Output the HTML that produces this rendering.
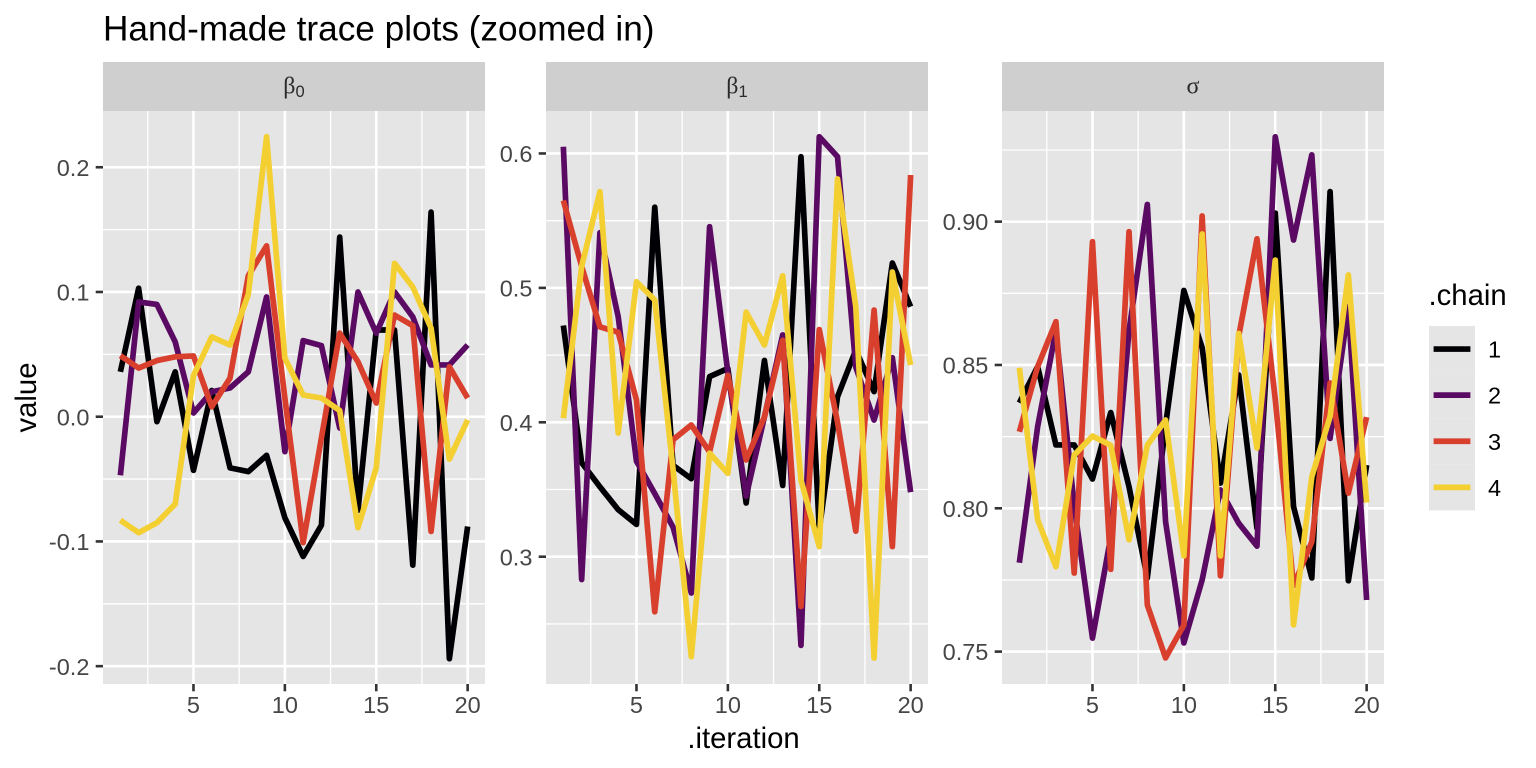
<!DOCTYPE html>
<html lang="en">
<head>
<meta charset="utf-8">
<title>Hand-made trace plots (zoomed in)</title>
<style>
  html, body { margin: 0; padding: 0; background: #ffffff; }
  body { width: 1536px; height: 768px; overflow: hidden; }
  svg { display: block; font-family: "Liberation Sans", sans-serif; }
</style>
</head>
<body>
<svg id="chart" xmlns="http://www.w3.org/2000/svg" width="1536" height="768" viewBox="0 0 1536 768">
  <text x="103" y="40.5" font-size="35.2" fill="#000000">Hand-made trace plots (zoomed in)</text>
  <text x="743.5" y="748" font-size="29.3" fill="#000000" text-anchor="middle">.iteration</text>
  <text transform="translate(36,397.5) rotate(-90)" font-size="29.3" fill="#000000" text-anchor="middle">value</text>
  <g id="panels"></g>
  <g id="legend">
    <text x="1428.5" y="305" font-size="29.3" fill="#000000">.chain</text>
  </g>
</svg>
<script>
// ---- data ----
const iterations = [1,2,3,4,5,6,7,8,9,10,11,12,13,14,15,16,17,18,19,20];
const chainNames = ["1","2","3","4"];
const chainColors = ["#000004","#5a0a62","#d83f2c","#f3cf31"];

const beta0Chain1 = [0.036,0.103,-0.004,0.036,-0.043,0.021,-0.041,-0.044,-0.031,-0.081,-0.112,-0.087,0.144,-0.075,0.0695,0.0695,-0.119,0.164,-0.194,-0.088];
const beta0Chain2 = [-0.047,0.092,0.090,0.060,0.003,0.020,0.023,0.036,0.096,-0.028,0.061,0.057,-0.009,0.100,0.067,0.100,0.080,0.0415,0.0415,0.0575];
const beta0Chain3 = [0.049,0.039,0.045,0.048,0.0487,0.008,0.031,0.113,0.137,0.015,-0.101,-0.017,0.067,0.044,0.011,0.0815,0.073,-0.092,0.040,0.015];
const beta0Chain4 = [-0.083,-0.093,-0.085,-0.070,0.033,0.064,0.0575,0.098,0.2245,0.047,0.0174,0.015,0.005,-0.089,-0.041,0.123,0.104,0.071,-0.034,-0.0026];

const beta1Chain1 = [0.472,0.370,0.352,0.335,0.324,0.560,0.368,0.358,0.434,0.440,0.340,0.446,0.353,0.5976,0.320,0.419,0.4538,0.4228,0.5185,0.486];
const beta1Chain2 = [0.605,0.283,0.541,0.4785,0.371,0.347,0.322,0.273,0.5455,0.437,0.345,0.404,0.465,0.234,0.6125,0.5976,0.441,0.4017,0.448,0.348];
const beta1Chain3 = [0.565,0.516,0.471,0.467,0.4166,0.259,0.387,0.398,0.378,0.435,0.372,0.404,0.461,0.263,0.469,0.400,0.319,0.4835,0.3075,0.584];
const beta1Chain4 = [0.403,0.516,0.5716,0.392,0.5046,0.491,0.365,0.2256,0.377,0.362,0.482,0.4575,0.509,0.357,0.3075,0.581,0.486,0.2246,0.5118,0.4426];

const sigmaChain1 = [0.8368,0.8494,0.8221,0.8221,0.8102,0.8334,0.8075,0.7757,0.829,0.876,0.856,0.8088,0.8465,0.793,0.903,0.8006,0.7757,0.9105,0.7747,0.8151];
const sigmaChain2 = [0.781,0.8285,0.862,0.801,0.7547,0.790,0.862,0.906,0.7953,0.753,0.775,0.8064,0.7948,0.7868,0.9296,0.8936,0.9233,0.8244,0.8703,0.768];
const sigmaChain3 = [0.8267,0.8494,0.8651,0.7774,0.893,0.7787,0.8965,0.7663,0.7478,0.7593,0.902,0.7764,0.860,0.894,0.838,0.773,0.7883,0.8437,0.8053,0.8318];
const sigmaChain4 = [0.849,0.796,0.7796,0.8186,0.8252,0.822,0.789,0.822,0.8308,0.7834,0.8957,0.7834,0.861,0.821,0.8866,0.7593,0.811,0.832,0.8814,0.802];

const beta0Series = [beta0Chain1, beta0Chain2, beta0Chain3, beta0Chain4];
const beta1Series = [beta1Chain1, beta1Chain2, beta1Chain3, beta1Chain4];
const sigmaSeries = [sigmaChain1, sigmaChain2, sigmaChain3, sigmaChain4];

const xTicks = [5,10,15,20];
const xMinorTicks = [2.5,7.5,12.5,17.5];
const xLimits = [0.05,20.95];

const beta0YTicks = [-0.2,-0.1,0,0.1,0.2];
const beta0YTickLabels = ["-0.2","-0.1","0.0","0.1","0.2"];
const beta0YMinor = [-0.15,-0.05,0.05,0.15];
const beta0YLimits = [-0.2143,0.2451];

const beta1YTicks = [0.3,0.4,0.5,0.6];
const beta1YTickLabels = ["0.3","0.4","0.5","0.6"];
const beta1YMinor = [0.25,0.35,0.45,0.55];
const beta1YLimits = [0.2053,0.6316];

const sigmaYTicks = [0.75,0.8,0.85,0.9];
const sigmaYTickLabels = ["0.75","0.80","0.85","0.90"];
const sigmaYMinor = [0.775,0.825,0.875,0.925];
const sigmaYLimits = [0.7387,0.9386];

// ---- layout ----
const SVG_NS = "http://www.w3.org/2000/svg";
const panelTop = 111, panelBottom = 684, stripTop = 62, panelWidth = 382;
const majorWidth = "2.6", minorWidth = "1.3", seriesWidth = "5.69";

function make(tag, attrs, parent) {
  const el = document.createElementNS(SVG_NS, tag);
  for (const k in attrs) el.setAttribute(k, attrs[k]);
  parent.appendChild(el);
  return el;
}

function xScale(v, left) {
  return left + (v - xLimits[0]) / (xLimits[1] - xLimits[0]) * panelWidth;
}
function yScale(v, lim) {
  return panelBottom - (v - lim[0]) / (lim[1] - lim[0]) * (panelBottom - panelTop);
}

function drawPanel(root, key, left, series, yLim, yTicks, yLabels, yMinor, stripMain, stripSub) {
  const g = make("g", {}, root);
  
  

  const strip = make("rect", {x:left, y:stripTop, width:panelWidth, height:panelTop-stripTop, fill:"#cfcfcf"}, g);
  
  

  const stripText = make("text", {x:left+panelWidth/2, y:93.5, "text-anchor":"middle", "font-size":"24", fill:"#2a2a2a", "font-family":'"Liberation Serif", serif'}, g);
  
  
  stripText.appendChild(document.createTextNode(stripMain));
  if (stripSub) {
    const sub = make("tspan", {dy:"3.5", "font-size":"16.5", "font-family":'"Liberation Sans", sans-serif'}, stripText);
    sub.textContent = stripSub;
  }

  const bg = make("rect", {x:left, y:panelTop, width:panelWidth, height:panelBottom-panelTop, fill:"#e5e5e5"}, g);
  
  

  yMinor.forEach(function (v) {
    const y = yScale(v, yLim);
    const l = make("line", {x1:left, x2:left+panelWidth, y1:y, y2:y, stroke:"#ffffff", "stroke-width":minorWidth}, g);
    
    
  });
  xMinorTicks.forEach(function (v) {
    const x = xScale(v, left);
    const l = make("line", {x1:x, x2:x, y1:panelTop, y2:panelBottom, stroke:"#ffffff", "stroke-width":minorWidth}, g);
    
    
  });
  yTicks.forEach(function (v, i) {
    const y = yScale(v, yLim);
    const l = make("line", {x1:left, x2:left+panelWidth, y1:y, y2:y, stroke:"#ffffff", "stroke-width":majorWidth}, g);
    
    
    const t = make("line", {x1:left-7.3, x2:left, y1:y, y2:y, stroke:"#333333", "stroke-width":majorWidth}, g);
    
    
    const lab = make("text", {x:left-13.6, y:y+8.6, "text-anchor":"end", "font-size":"23.5", fill:"#464646"}, g);
    
    
    lab.textContent = yLabels[i];
  });
  xTicks.forEach(function (v) {
    const x = xScale(v, left);
    const l = make("line", {x1:x, x2:x, y1:panelTop, y2:panelBottom, stroke:"#ffffff", "stroke-width":majorWidth}, g);
    
    
    const t = make("line", {x1:x, x2:x, y1:panelBottom, y2:panelBottom+7.3, stroke:"#333333", "stroke-width":majorWidth}, g);
    
    
    const lab = make("text", {x:x, y:713, "text-anchor":"middle", "font-size":"23.5", fill:"#464646"}, g);
    
    
    lab.textContent = String(v);
  });

  series.forEach(function (values, c) {
    const pts = values.map(function (v, i) {
      return xScale(iterations[i], left).toFixed(2) + "," + yScale(v, yLim).toFixed(2);
    }).join(" ");
    const line = make("polyline", {points:pts, fill:"none", stroke:chainColors[c], "stroke-width":seriesWidth, "stroke-linejoin":"round", "stroke-linecap":"butt"}, g);
    
    
  });
}

const panelsRoot = document.getElementById("panels");
drawPanel(panelsRoot, "beta0", 103, beta0Series, beta0YLimits, beta0YTicks, beta0YTickLabels, beta0YMinor, "\u03B2", "0");
drawPanel(panelsRoot, "beta1", 546, beta1Series, beta1YLimits, beta1YTicks, beta1YTickLabels, beta1YMinor, "\u03B2", "1");
drawPanel(panelsRoot, "sigma", 1002, sigmaSeries, sigmaYLimits, sigmaYTicks, sigmaYTickLabels, sigmaYMinor, "\u03C3", "");

// ---- legend ----
const legendRoot = document.getElementById("legend");
const keySize = 46.1, keyLeft = 1429, keyTop = 326;
chainNames.forEach(function (name, i) {
  const y = keyTop + keySize * i;
  const entry = make("g", {}, legendRoot);
  
  
  const key = make("rect", {x:keyLeft, y:y, width:46, height:keySize, fill:"#e5e5e5"}, entry);
  
  
  const sw = make("line", {x1:keyLeft+4.6, x2:keyLeft+41.4, y1:y+keySize/2, y2:y+keySize/2, stroke:chainColors[i], "stroke-width":seriesWidth}, entry);
  
  
  const lab = make("text", {x:1488, y:y+keySize/2+8.5, "font-size":"23.5", fill:"#000000"}, entry);
  
  
  lab.textContent = name;
});
</script>
</body>
</html>
